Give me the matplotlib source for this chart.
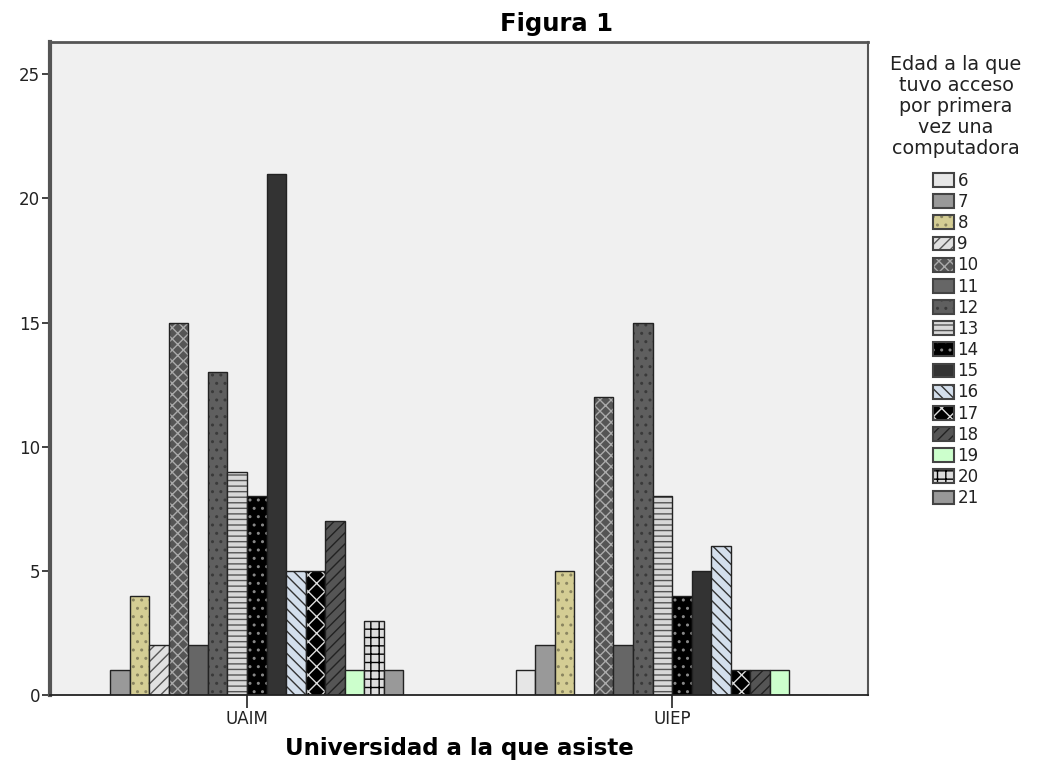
import matplotlib
matplotlib.use("Agg")
import matplotlib.pyplot as plt
import numpy as np
from matplotlib.patches import Patch

plt.rcParams['font.family'] = ['DejaVu Sans']
plt.rcParams['hatch.linewidth'] = 1.0

universidades = ['UAIM', 'UIEP']
edades = ['6', '7', '8', '9', '10', '11', '12', '13', '14', '15', '16', '17', '18', '19', '20', '21']
uaim = [0, 1, 4, 2, 15, 2, 13, 9, 8, 21, 5, 5, 7, 1, 3, 1]
uiep = [1, 2, 5, 0, 12, 2, 15, 8, 4, 5, 6, 1, 1, 1, 0, 0]

# fill colour, hatch, hatch colour per age
estilos = [
    ('#e6e6e6', '', None),
    ('#999999', '', None),
    ('#d4cd94', '..', '#8a8560'),
    ('#e0e0e0', '///', '#555555'),
    ('#555555', 'xxx', '#aaaaaa'),
    ('#666666', '', None),
    ('#5f5f5f', '..', '#3a3a3a'),
    ('#d8d8d8', '---', '#555555'),
    ('#000000', '..', '#888888'),
    ('#333333', '', None),
    ('#d4dfec', '\\\\\\', '#333333'),
    ('#000000', 'xx', '#dddddd'),
    ('#555555', '///', '#222222'),
    ('#ccffcc', '', None),
    ('#dddddd', '++', '#000000'),
    ('#999999', '', None),
]

fig = plt.figure(figsize=(10.37, 7.66), dpi=100)
ax = fig.add_axes([50 / 1037, 71 / 766, 818 / 1037, 653 / 766])
ax.set_facecolor('#f0f0f0')

x = np.arange(len(universidades))
ancho = 0.046
n = len(edades)
handles = []
for i, edad in enumerate(edades):
    fc, hatch, hc = estilos[i]
    vals = [uaim[i], uiep[i]]
    pos = x + (i - (n - 1) / 2) * ancho
    ax.bar(pos, vals, ancho, color=fc, linewidth=0)
    if hatch:
        ax.bar(pos, vals, ancho, color='none', hatch=hatch, edgecolor=hc, linewidth=0)
    ax.bar(pos, vals, ancho, color='none', edgecolor='#222222', linewidth=1.0)
    h_fc = Patch(facecolor=fc, edgecolor='none')
    h_out = Patch(facecolor='none', edgecolor='#444444', linewidth=1.5)
    if hatch:
        h_h = Patch(facecolor='none', hatch=hatch, edgecolor=hc, linewidth=0)
        handles.append((h_fc, h_h, h_out))
    else:
        handles.append((h_fc, h_out))

ax.set_xlim(-0.4635, 1.461)
ax.set_ylim(0, 26.3)
ax.set_yticks([0, 5, 10, 15, 20, 25])
ax.set_xticks(x)
ax.set_xticklabels(universidades)
ax.tick_params(axis='y', length=6, width=1.2, labelsize=12, direction='out',
               color='#222222', labelcolor='#222222', pad=1)
ax.tick_params(axis='x', length=9, width=1.2, labelsize=12, direction='out',
               pad=1.5, color='#222222', labelcolor='#222222')
for s in ['top', 'left', 'right']:
    ax.spines[s].set_color('#555555')
ax.spines['left'].set_linewidth(3.0)
ax.spines['top'].set_linewidth(2.0)
ax.spines['right'].set_linewidth(1.5)
ax.spines['bottom'].set_color('#222222')
ax.spines['bottom'].set_linewidth(1.3)

ax.set_xlabel('Universidad a la que asiste', fontsize=16.5, fontweight='bold')
ax.xaxis.set_label_coords(0.5, -(749 - 695) / 653)
ax.xaxis.label.set_va('center')
fig.text(556 / 1037, 1 - 24 / 766, 'Figura 1', fontsize=17.5, fontweight='bold',
         ha='center', va='center')

leg = fig.legend(handles, edades, loc='upper center', bbox_to_anchor=(956 / 1037, 1 - 47 / 766),
                 frameon=False, fontsize=12, handlelength=1.25, handleheight=0.9,
                 handletextpad=0.2, labelspacing=0.19, borderpad=0,
                 title='Edad a la que\ntuvo acceso\npor primera\nvez una\ncomputadora',
                 title_fontsize=13.8)
leg.get_title().set_multialignment('center')
leg.get_title().set_linespacing(1.12)
leg._legend_box.sep = 10.2
for t in leg.get_texts():
    t.set_color('#222222')
leg.get_title().set_color('#222222')

fig.savefig('out.png', dpi=100)
